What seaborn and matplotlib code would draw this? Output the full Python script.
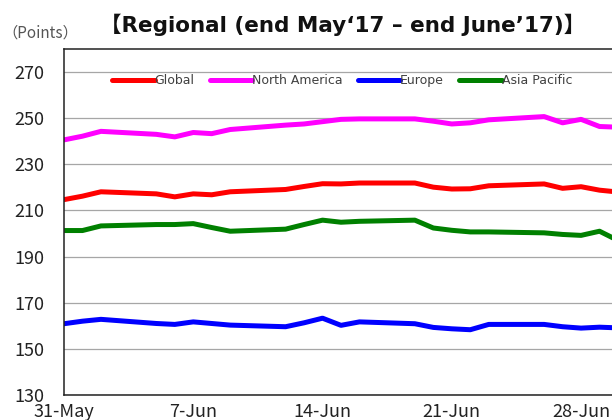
import matplotlib
matplotlib.use("Agg")
import matplotlib.pyplot as plt
import matplotlib.dates as mdates
import numpy as np
import pandas as pd
import seaborn as sns

# ---- data ----
dates = ["2017-05-31", "2017-06-01", "2017-06-02", "2017-06-05", "2017-06-06",
         "2017-06-07", "2017-06-08", "2017-06-09", "2017-06-12", "2017-06-13",
         "2017-06-14", "2017-06-15", "2017-06-16", "2017-06-19", "2017-06-20",
         "2017-06-21", "2017-06-22", "2017-06-23", "2017-06-26", "2017-06-27",
         "2017-06-28", "2017-06-29", "2017-06-30"]
global_vals = [214.7, 216.2, 218.1, 217.2, 215.9, 217.2, 216.8, 218.1, 219.1, 220.4,
               221.6, 221.5, 221.9, 221.9, 220.1, 219.3, 219.4, 220.7, 221.5, 219.6,
               220.3, 218.8, 218.0]
north_america = [240.6, 242.2, 244.3, 243.0, 241.9, 243.8, 243.3, 245.1, 247.0, 247.5,
                 248.5, 249.5, 249.7, 249.7, 248.7, 247.5, 248.0, 249.3, 250.7, 248.0,
                 249.5, 246.4, 246.1]
europe = [160.9, 162.0, 162.8, 161.0, 160.6, 161.7, 161.0, 160.3, 159.6, 161.3,
          163.3, 160.2, 161.7, 160.9, 159.3, 158.7, 158.3, 160.6, 160.6, 159.6,
          159.0, 159.4, 159.1]
asia_pacific = [201.3, 201.3, 203.3, 203.9, 203.9, 204.3, 202.6, 201.0, 201.9, 203.9,
                205.8, 204.9, 205.3, 205.8, 202.4, 201.4, 200.7, 200.7, 200.3, 199.6,
                199.2, 201.0, 197.0]
series_names = ["Global", "North America", "Europe", "Asia Pacific"]
tick_dates = ["2017-05-31", "2017-06-07", "2017-06-14", "2017-06-21", "2017-06-28"]
y_ticks = [130, 150, 170, 190, 210, 230, 250, 270]

colors = ["#FF0000", "#FF00FF", "#0000FF", "#008000"]

frames = []
for name, vals in zip(series_names, [global_vals, north_america, europe, asia_pacific]):
    frames.append(pd.DataFrame({"date": pd.to_datetime(dates), "value": vals, "region": name}))
df = pd.concat(frames, ignore_index=True)

sns.set_theme(style="white")
plt.rcParams["font.family"] = ["Noto Sans CJK JP", "DejaVu Sans"]

fig = plt.figure(figsize=(6.12, 4.2), dpi=100)
ax = fig.add_axes([64 / 612, 25 / 420, 554 / 612, 346 / 420])

sns.lineplot(data=df, x="date", y="value", hue="region", hue_order=series_names,
             palette=colors, linewidth=3.6, ax=ax, sort=False)

ax.set_ylim(130, 280)
ax.set_xlim(pd.Timestamp("2017-05-31"), pd.Timestamp("2017-06-30"))
ax.set_yticks(y_ticks)
ax.set_xticks(pd.to_datetime(tick_dates))
ax.xaxis.set_major_formatter(mdates.DateFormatter("%-d-%b"))
ax.set_xlabel("")
ax.set_ylabel("")
ax.grid(axis="y", color="#A6A6A6", linewidth=0.9)
ax.grid(axis="x", visible=False)
ax.set_axisbelow(True)
for s in ax.spines.values():
    s.set_color("#222222")
    s.set_linewidth(1.1)
ax.tick_params(axis="both", direction="in", length=4, width=1, color="#222222",
               labelsize=13, labelcolor="#222222")
ax.tick_params(axis="y", pad=14)
ax.tick_params(axis="x", pad=5.5)

sns.move_legend(ax, "upper center", bbox_to_anchor=(0.502, 0.96), ncol=4, frameon=False,
                title=None, handlelength=3.4, handletextpad=0.0,
                columnspacing=1.2, labelcolor="#404040",
                prop={"family": "DejaVu Sans", "size": 9})

fig.text(0.004, 0.922, "（Points）", fontsize=11, color="#555555", ha="left", va="center")
fig.text(0.56, 0.94, "【Regional (end May‘17 – end June’17)】", fontsize=15.5, fontweight="bold",
         ha="center", va="center", color="#111111",
         family=["DejaVu Sans", "Noto Sans CJK JP"])

fig.savefig("out.png", dpi=100)
